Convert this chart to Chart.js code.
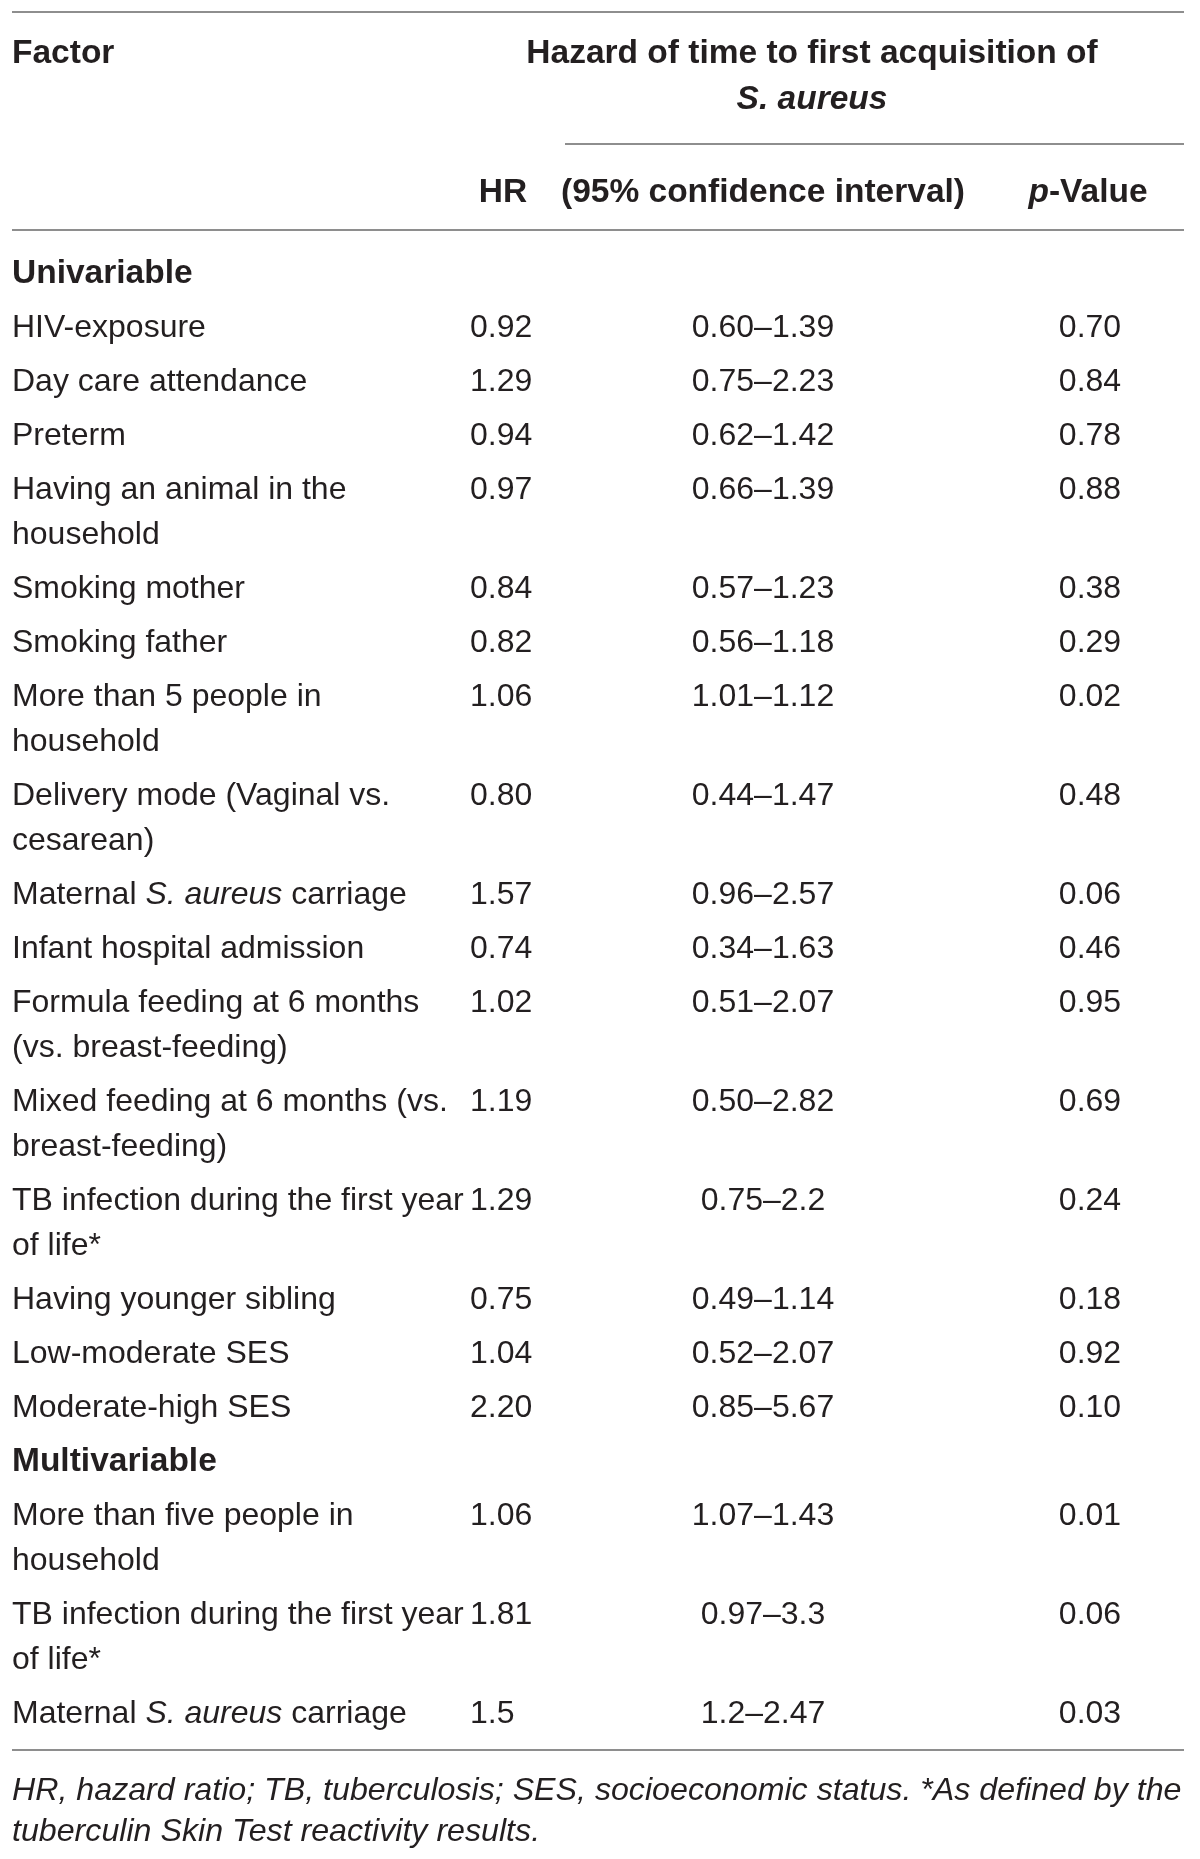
<!DOCTYPE html>
<html>
<head>
<meta charset="utf-8">
<title>Hazard of time to first acquisition of S. aureus</title>
<script src="https://cdn.jsdelivr.net/npm/chart.js@4.4.1/dist/chart.umd.min.js"></script>
<style>
  html, body { margin: 0; padding: 0; background: #fff; }
  #wrap { position: relative; width: 1200px; height: 1859px; }
</style>
</head>
<body>
<div id="wrap"><canvas id="hazardTable"></canvas></div>
<script>
// table content, one array per column ( _text_ = italic, \n = line break as in the print)
const uniFactors = [
  'HIV-exposure', 'Day care attendance', 'Preterm', 'Having an animal in the\nhousehold',
  'Smoking mother', 'Smoking father', 'More than 5 people in\nhousehold',
  'Delivery mode (Vaginal vs.\ncesarean)', 'Maternal _S. aureus_ carriage',
  'Infant hospital admission', 'Formula feeding at 6 months\n(vs. breast-feeding)',
  'Mixed feeding at 6 months (vs.\nbreast-feeding)', 'TB infection during the first year\nof life*',
  'Having younger sibling', 'Low-moderate SES', 'Moderate-high SES'
];
const uniHR = ['0.92', '1.29', '0.94', '0.97', '0.84', '0.82', '1.06', '0.80', '1.57', '0.74', '1.02', '1.19', '1.29', '0.75', '1.04', '2.20'];
const uniCI = ['0.60–1.39', '0.75–2.23', '0.62–1.42', '0.66–1.39', '0.57–1.23', '0.56–1.18', '1.01–1.12', '0.44–1.47',
  '0.96–2.57', '0.34–1.63', '0.51–2.07', '0.50–2.82', '0.75–2.2', '0.49–1.14', '0.52–2.07', '0.85–5.67'];
const uniP = ['0.70', '0.84', '0.78', '0.88', '0.38', '0.29', '0.02', '0.48', '0.06', '0.46', '0.95', '0.69', '0.24', '0.18', '0.92', '0.10'];

const multiFactors = ['More than five people in\nhousehold', 'TB infection during the first year\nof life*', 'Maternal _S. aureus_ carriage'];
const multiHR = ['1.06', '1.81', '1.5'];
const multiCI = ['1.07–1.43', '0.97–3.3', '1.2–2.47'];
const multiP = ['0.01', '0.06', '0.03'];

const groupNames = ['Univariable', 'Multivariable'];
const headTop = ['Factor', 'Hazard of time to first acquisition of', '_S. aureus_'];
const headCols = ['HR', '(95% confidence interval)', '_p_-Value'];
const footnote = ['HR, hazard ratio; TB, tuberculosis; SES, socioeconomic status. *As defined by the',
  'tuberculin Skin Test reactivity results.'];

// layout
const W = 1200, H = 1859;
const ink = '#231f20';
const ruleColor = '#8e8e8e';
const family = '"Liberation Sans", Arial, Helvetica, sans-serif';
const fs = 32, fsBold = 33.5;
const left = 12, right = 1184;
const colHR = 470, colHRhead = 503, colCI = 763, colP = 1090, colPhead = 1088, colHaz = 812;
const rowGap = 54, lineGap = 45;

const cells = [];
function cell(x, y, text, align, bold, italic, size) {
  cells.push({ x: x, y: y, text: text, align: align, bold: !!bold, italic: !!italic, size: size || (bold ? fsBold : fs) });
}

// header
cell(left, 51, headTop[0], 'left', true);
cell(colHaz, 51, headTop[1], 'center', true);
cell(colHaz, 97, headTop[2], 'center', true);
cell(colHRhead, 190, headCols[0], 'center', true);
cell(colCI, 190, headCols[1], 'center', true);
cell(colPhead, 190, headCols[2], 'center', true);

// body
let y = 271;
function addGroup(name, factors, hr, ci, p) {
  cell(left, y, name, 'left', true);
  factors.forEach((f, i) => {
    y += rowGap;
    cell(colHR, y, hr[i], 'left');
    cell(colCI, y, ci[i], 'center');
    cell(colP, y, p[i], 'center');
    f.split('\n').forEach((line, k) => {
      if (k > 0) y += lineGap;
      cell(left, y, line, 'left');
    });
  });
  y += rowGap;
}
addGroup(groupNames[0], uniFactors, uniHR, uniCI, uniP);
addGroup(groupNames[1], multiFactors, multiHR, multiCI, multiP);
const lastRow = y - rowGap;
const bottomRule = lastRow + 39;

// footnote, sized so the first line fills the table width
const probe = document.createElement('canvas').getContext('2d');
probe.font = 'italic 100px ' + family;
const noteSize = Math.min(33, 100 * (right - left - 2) / probe.measureText(footnote[0]).width);
cell(left, bottomRule + 38, footnote[0], 'left', false, true, noteSize);
cell(left, bottomRule + 79, footnote[1], 'left', false, true, noteSize);

// horizontal rules
const rules = [
  [left, right, 12],
  [565, right, 144],
  [left, right, 230],
  [left, right, bottomRule]
];

function fontFor(c, italic) {
  return (italic ? 'italic ' : '') + (c.bold ? 'bold ' : '') + c.size + 'px ' + family;
}

function drawRich(ctx, c, x, y) {
  const parts = c.text.split('_').map((t, i) => ({ t: t, it: c.italic || i % 2 === 1 })).filter(p => p.t.length);
  let total = 0;
  parts.forEach(p => { ctx.font = fontFor(c, p.it); p.w = ctx.measureText(p.t).width; total += p.w; });
  let cx = c.align === 'center' ? x - total / 2 : x;
  const base = y + c.size * 0.36;
  parts.forEach(p => {
    ctx.font = fontFor(c, p.it);
    ctx.fillText(p.t, cx, base);
    cx += p.w;
  });
}

const cellText = {
  id: 'cellText',
  afterDatasetsDraw(chart) {
    const ctx = chart.ctx;
    const meta = chart.getDatasetMeta(0);
    ctx.save();
    ctx.fillStyle = ink;
    ctx.textAlign = 'left';
    ctx.textBaseline = 'alphabetic';
    meta.data.forEach((pt, i) => drawRich(ctx, cells[i], pt.x, pt.y));
    ctx.restore();
  }
};

const whiteBg = {
  id: 'whiteBg',
  beforeDraw(chart) {
    const ctx = chart.ctx;
    ctx.save();
    ctx.fillStyle = '#fff';
    ctx.fillRect(0, 0, chart.width, chart.height);
    ctx.restore();
  }
};

const datasets = [{
  type: 'scatter',
  data: cells.map(c => ({ x: c.x, y: c.y })),
  pointRadius: 0,
  pointHoverRadius: 0
}];
rules.forEach(r => {
  datasets.push({
    type: 'line',
    data: [{ x: r[0], y: r[2] }, { x: r[1], y: r[2] }],
    borderColor: ruleColor,
    borderWidth: 2,
    pointRadius: 0,
    fill: false
  });
});

new Chart(document.getElementById('hazardTable'), {
  type: 'scatter',
  data: { datasets: datasets },
  options: {
    responsive: true,
    maintainAspectRatio: false,
    animation: false,
    events: [],
    layout: { padding: 0 },
    plugins: { legend: { display: false }, tooltip: { enabled: false } },
    scales: {
      x: { type: 'linear', min: 0, max: W, display: false },
      y: { type: 'linear', min: 0, max: H, reverse: true, display: false }
    }
  },
  plugins: [whiteBg, cellText]
});
</script>
</body>
</html>
